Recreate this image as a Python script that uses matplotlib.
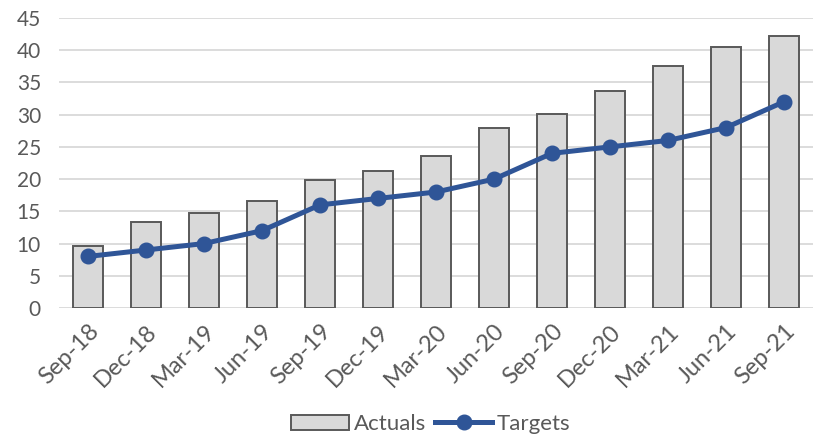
import numpy as np
import matplotlib.pyplot as plt

quarters = ['Sep-18', 'Dec-18', 'Mar-19', 'Jun-19', 'Sep-19', 'Dec-19', 'Mar-20',
            'Jun-20', 'Sep-20', 'Dec-20', 'Mar-21', 'Jun-21', 'Sep-21']
actuals = [9.6, 13.3, 14.7, 16.6, 19.9, 21.3, 23.6, 27.9, 30.1, 33.6, 37.5, 40.5, 42.2]
targets = [8, 9, 10, 12, 16, 17, 18, 20, 24, 25, 26, 28, 32]

plt.rcParams['font.family'] = ['Lato', 'DejaVu Sans']

fig = plt.figure(figsize=(8.13, 4.43), dpi=100)
ax = fig.add_axes([59 / 813, 1 - 308 / 443, 1 - 59 / 813, 290 / 443])

x = np.arange(len(quarters))
bars = ax.bar(x, actuals, width=0.51, color='#d9d9d9', edgecolor='#595959',
              linewidth=1.4, label='Actuals', zorder=2)
line, = ax.plot(x, targets, color='#2f5597', linewidth=3.6, marker='o', markersize=10.5,
                label='Targets', zorder=3)

ax.set_xlim(-0.5, len(quarters) - 0.5)
ax.set_ylim(0, 45)
ax.set_yticks(np.arange(0, 46, 5))
ax.yaxis.grid(True, color='#d9d9d9', linewidth=1.3, zorder=0)
ax.set_axisbelow(True)
for s in ax.spines.values():
    s.set_visible(False)
ax.tick_params(axis='both', length=0, colors='#595959')
ax.tick_params(axis='y', labelsize=15, pad=13)
ax.set_xticks(x)
ax.set_xticklabels(quarters, rotation=45, ha='right', rotation_mode='anchor')
ax.tick_params(axis='x', labelsize=17, pad=9)

fig.legend([bars, line], ['Actuals', 'Targets'], loc='lower center',
           bbox_to_anchor=(0.53, -0.025), ncol=2, frameon=False,
           fontsize=16, labelcolor='#595959', handlelength=2.6, handletextpad=0.2,
           columnspacing=0.4)

fig.savefig('out.png', dpi=100)
